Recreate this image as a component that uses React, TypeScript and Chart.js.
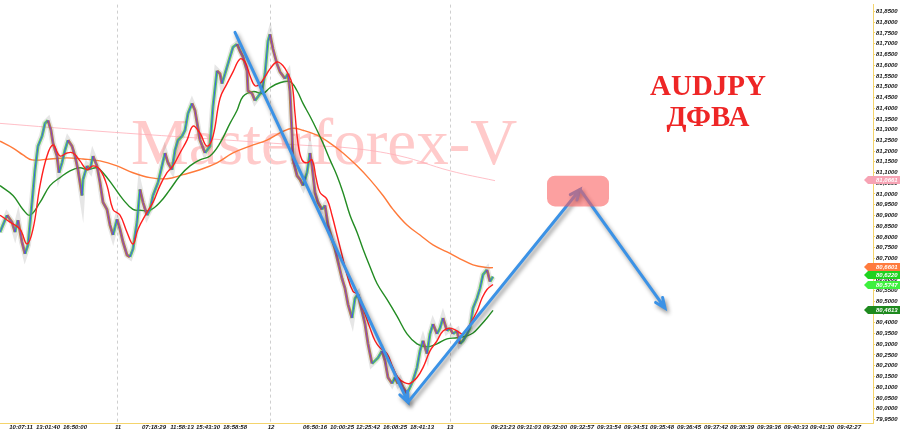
import React, { useEffect, useRef } from "react";
import { Chart, registerables } from "chart.js";

Chart.register(...registerables);

// ---- price (close) path, bar index vs price ----
const priceX = [0,7,12,15,18,22,25,28,32,35,38,42,45,48,51,53,57,59,62,65,68,72,75,78,82,83,87,90,93,97,100,103,107,110,113,117,120,123,127,130,133,137,140,143,147,150,153,158,162,165,168,172,175,178,182,185,188,192,195,200,205,210,213,217,220,222,225,230,233,237,240,243,247,248,252,255,258,262,265,268,270,273,277,280,285,288,290,292,293,297,300,303,307,310,312,315,318,322,325,328,332,335,338,342,345,348,352,355,358,362,365,368,372,375,378,382,385,388,392,395,398,400,403,407,410,413,417,420,423,427,430,433,437,440,443,447,450,453,457,460,463,467,470,473,477,480,483,487,490,493];
const priceV = [80.822,80.901,80.869,80.822,80.878,80.776,80.721,80.763,80.961,81.113,81.223,81.269,81.329,81.343,81.297,81.237,81.177,81.099,81.145,81.205,81.251,81.223,81.177,81.113,80.993,81.067,81.131,81.113,81.177,81.131,81.053,80.961,80.928,80.855,80.809,80.882,80.836,80.776,80.716,80.707,80.744,80.869,81.021,80.961,80.901,80.928,80.993,81.053,81.131,81.191,81.145,81.113,81.205,81.251,81.269,81.297,81.375,81.422,81.389,81.251,81.191,81.223,81.408,81.574,81.560,81.514,81.560,81.638,81.684,81.698,81.666,81.638,81.574,81.481,81.468,81.435,81.454,81.481,81.560,81.712,81.744,81.675,81.606,81.569,81.537,81.560,81.477,81.283,81.159,81.085,81.067,81.039,81.099,81.191,81.131,81.007,80.961,80.928,80.947,80.855,80.790,80.744,80.684,80.606,80.560,80.486,80.422,80.514,80.532,80.454,80.394,80.302,80.210,80.223,80.237,80.269,80.223,80.145,80.117,80.145,80.117,80.131,80.099,80.071,80.099,80.131,80.191,80.269,80.316,80.256,80.348,80.394,80.348,80.375,80.422,80.362,80.375,80.348,80.362,80.302,80.316,80.348,80.375,80.468,80.514,80.560,80.624,80.647,80.592,80.615];

// ---- moving averages ----
const redX = [0,10,20,27,33,40,47,53,60,67,73,80,87,93,100,107,113,120,127,133,138,147,153,160,167,173,180,187,193,200,207,213,220,227,233,240,245,250,255,260,265,270,277,283,288,292,295,298,302,307,312,316,320,327,332,337,342,347,353,358,363,370,375,380,387,393,398,404,410,417,423,430,437,443,450,457,463,470,477,482,487,493];
const redV = [80.901,80.869,80.836,80.767,80.836,81.039,81.177,81.228,81.177,81.191,81.191,81.154,81.113,81.131,81.113,81.039,80.928,80.901,80.822,80.767,80.836,80.915,80.961,81.039,81.099,81.131,81.191,81.251,81.316,81.283,81.223,81.269,81.445,81.514,81.569,81.629,81.615,81.551,81.504,81.514,81.546,81.583,81.615,81.597,81.560,81.514,81.375,81.237,81.159,81.145,81.159,81.076,81.007,80.975,80.901,80.809,80.716,80.624,80.546,80.532,80.468,80.375,80.316,80.283,80.256,80.191,80.145,80.122,80.117,80.145,80.191,80.269,80.316,80.362,80.375,80.362,80.348,80.394,80.454,80.514,80.555,80.578];

const greenX = [0,13,23,30,40,50,60,70,80,87,97,103,113,123,133,140,150,160,170,180,190,200,210,220,230,237,243,253,263,270,280,290,297,303,310,317,323,330,337,343,350,357,363,370,377,387,397,407,417,427,437,447,457,467,473,480,487,493];
const greenV = [81.039,80.993,80.928,80.901,80.961,81.039,81.076,81.108,81.122,81.113,81.122,81.099,81.039,80.975,80.928,80.924,80.924,80.961,81.021,81.085,81.131,81.159,81.177,81.237,81.329,81.389,81.454,81.477,81.468,81.495,81.518,81.523,81.481,81.422,81.362,81.297,81.237,81.159,81.085,81.007,80.901,80.822,80.744,80.661,80.583,80.509,80.431,80.348,80.302,80.288,80.302,80.325,80.330,80.339,80.352,80.385,80.422,80.458];

const orangeX = [0,13,23,32,50,67,83,100,117,133,150,167,183,200,217,233,250,267,283,293,303,317,330,343,357,370,383,393,407,420,433,447,460,473,487,493];
const orangeV = [81.246,81.214,81.182,81.159,81.163,81.168,81.163,81.154,81.131,81.099,81.076,81.071,81.090,81.113,81.145,81.191,81.223,81.251,81.292,81.306,81.297,81.274,81.237,81.191,81.131,81.067,80.993,80.928,80.855,80.809,80.763,80.730,80.698,80.670,80.657,80.657];

const pinkX = [0,100,200,300,350,400,450,495];
const pinkV = [81.329,81.292,81.260,81.228,81.214,81.177,81.108,81.062];

// ---- axes ----
const yTicks = [81.85,81.80,81.75,81.70,81.65,81.60,81.55,81.50,81.45,81.40,81.35,81.30,81.25,81.20,81.15,81.10,81.05,81.00,80.95,80.90,80.85,80.80,80.75,80.70,80.65,80.60,80.55,80.50,80.45,80.40,80.35,80.30,80.25,80.20,80.15,80.10,80.05,80.00,79.95];
const xTickPos = [21,48,75,118,154,182,208,235,271,315,342,368,395,422,450,503,529,555,582,609,636,662,689,716,742,769,796,822,849];
const xTickLabels = ["10:07:11","13:01:40","16:50:00","11","07:18:29","11:58:13","15:43:30","18:58:58","12","06:50:16","10:00:25","12:25:42","16:08:25","18:41:13","13","09:23:23","09:31:03","09:32:00","09:32:57","09:33:54","09:34:51","09:35:48","09:36:45","09:37:42","09:38:39","09:39:36","09:40:33","09:41:30","09:42:27"];
const daySeparators = [117, 270, 450];

// ---- annotations ----
const arrowFrom = [[235, 81.753], [408, 80.030], [580, 81.021]];
const arrowTo = [[408, 80.030], [580, 81.021], [665, 80.468]];
const zoneX = [547, 609];
const zoneV = [81.085, 80.942];
const titleLines = ["AUDJPY", "ДФВА"];
const watermark = "Masterforex-V";
const tagValues = [81.0661, 80.6601, 80.5747, 80.6220, 80.4613];
const tagColors = ["#f7a3b4", "#ff7b3d", "#3ef03e", "#1fd21f", "#1e8a1e"];

const Y_MIN = 79.933;
const Y_MAX = 81.8823;
const AXIS_YELLOW = "#f4d46c";
const tickFont = { family: "Liberation Sans", size: 6, style: "italic" as const, weight: "bold" as const };

const fmt = (v: number) => v.toFixed(4).replace(".", ",");
const pts = (xs: number[], vs: number[]) => xs.map((x, i) => ({ x, y: vs[i] }));

const overlayPlugin = {
  id: "overlayPlugin",
  beforeDatasetsDraw(chart: any) {
    const { ctx, chartArea, scales } = chart;
    ctx.save();
    ctx.font = '65px "Liberation Serif"';
    ctx.fillStyle = "#ffcaca";
    ctx.textBaseline = "alphabetic";
    ctx.textAlign = "left";
    ctx.fillText(watermark, 131, 164);
    ctx.strokeStyle = "#cfcfcf";
    ctx.lineWidth = 1;
    ctx.setLineDash([3, 3]);
    daySeparators.forEach((d) => {
      const x = Math.round(scales.x.getPixelForValue(d)) + 0.5;
      ctx.beginPath();
      ctx.moveTo(x, chartArea.top);
      ctx.lineTo(x, chartArea.bottom);
      ctx.stroke();
    });
    ctx.restore();
  },
  afterDatasetsDraw(chart: any) {
    const { ctx, scales } = chart;
    const xs = scales.x, ys = scales.y;
    ctx.save();
    ctx.strokeStyle = "#3b92e6";
    ctx.lineWidth = 3;
    ctx.lineCap = "round";
    ctx.shadowColor = "rgba(0,0,0,0.45)";
    ctx.shadowBlur = 4;
    ctx.shadowOffsetX = 2;
    ctx.shadowOffsetY = 3;
    arrowFrom.forEach((f, i) => {
      const t = arrowTo[i];
      const x1 = xs.getPixelForValue(f[0]), y1 = ys.getPixelForValue(f[1]);
      const x2 = xs.getPixelForValue(t[0]), y2 = ys.getPixelForValue(t[1]);
      ctx.beginPath();
      ctx.moveTo(x1, y1);
      ctx.lineTo(x2, y2);
      const a = Math.atan2(y2 - y1, x2 - x1);
      const L = 11;
      ctx.moveTo(x2 - L * Math.cos(a - 0.4), y2 - L * Math.sin(a - 0.4));
      ctx.lineTo(x2, y2);
      ctx.lineTo(x2 - L * Math.cos(a + 0.4), y2 - L * Math.sin(a + 0.4));
      ctx.stroke();
    });
    ctx.restore();
    ctx.save();
    const bx1 = xs.getPixelForValue(zoneX[0]), bx2 = xs.getPixelForValue(zoneX[1]);
    const by1 = ys.getPixelForValue(zoneV[0]), by2 = ys.getPixelForValue(zoneV[1]);
    const r = 8;
    ctx.fillStyle = "rgba(250,92,92,0.58)";
    ctx.beginPath();
    ctx.moveTo(bx1 + r, by1);
    ctx.arcTo(bx2, by1, bx2, by2, r);
    ctx.arcTo(bx2, by2, bx1, by2, r);
    ctx.arcTo(bx1, by2, bx1, by1, r);
    ctx.arcTo(bx1, by1, bx2, by1, r);
    ctx.closePath();
    ctx.fill();
    ctx.fillStyle = "#ee2626";
    ctx.font = 'bold 29px "Liberation Serif"';
    ctx.textAlign = "center";
    ctx.textBaseline = "alphabetic";
    ctx.fillText(titleLines[0], 708, 95);
    ctx.fillText(titleLines[1], 708, 126);
    ctx.restore();
  },
  afterDraw(chart: any) {
    const { ctx, chartArea, scales } = chart;
    ctx.save();
    ctx.font = 'italic bold 6px "Liberation Sans"';
    ctx.textBaseline = "middle";
    ctx.textAlign = "left";
    tagValues.forEach((v, i) => {
      const y = Math.round(scales.y.getPixelForValue(v));
      const x0 = chartArea.right - 9;
      ctx.fillStyle = tagColors[i];
      ctx.beginPath();
      ctx.moveTo(x0, y);
      ctx.lineTo(x0 + 4, y - 4);
      ctx.lineTo(900, y - 4);
      ctx.lineTo(900, y + 4);
      ctx.lineTo(x0 + 4, y + 4);
      ctx.closePath();
      ctx.fill();
      ctx.fillStyle = "#ffffff";
      ctx.fillText(fmt(v), chartArea.right + 3, y + 0.5);
    });
    ctx.restore();
  },
};

export default function App() {
  const ref = useRef<HTMLCanvasElement | null>(null);
  useEffect(() => {
    document.body.style.margin = "0";
    const canvas = ref.current;
    if (!canvas) return;
    const up = (c: any) => c.p1.parsed.y >= c.p0.parsed.y;
    const chart = new Chart(canvas, {
      type: "line",
      data: {
        datasets: [
          { label: "MA fast", data: pts(redX, redV), borderColor: "#ff1e1e", borderWidth: 1.4, pointRadius: 0, tension: 0.4, order: 1 },
          {
            label: "price", data: pts(priceX, priceV), borderWidth: 1, pointRadius: 0, tension: 0, order: 2,
            borderColor: "#4a55f0",
            segment: { borderColor: (c: any) => (up(c) ? "#3a5cf5" : "#8a3cc8") },
          },
          {
            label: "bars", data: pts(priceX, priceV), borderWidth: 3, pointRadius: 0, tension: 0, order: 3,
            borderColor: "#5cc85c",
            segment: { borderColor: (c: any) => (up(c) ? "rgba(70,200,60,0.8)" : "rgba(165,105,40,0.8)") },
          },
          { label: "halo", data: pts(priceX, priceV), borderColor: "rgba(140,140,140,0.22)", borderWidth: 6, pointRadius: 0, tension: 0, order: 4 },
          { label: "MA mid", data: pts(greenX, greenV), borderColor: "#238c23", borderWidth: 1.4, pointRadius: 0, tension: 0.4, order: 5 },
          { label: "MA slow", data: pts(orangeX, orangeV), borderColor: "#ff7a3a", borderWidth: 1.4, pointRadius: 0, tension: 0.4, order: 6 },
          { label: "MA long", data: pts(pinkX, pinkV), borderColor: "rgba(255,175,185,0.8)", borderWidth: 1, pointRadius: 0, tension: 0.4, order: 7 },
        ],
      },
      options: {
        responsive: false,
        animation: false,
        layout: { padding: 0, autoPadding: false },
        plugins: { legend: { display: false }, tooltip: { enabled: false } },
        scales: {
          x: {
            type: "linear",
            position: "bottom",
            min: 0,
            max: 873,
            afterFit: (s: any) => { s.height = 9; },
            afterBuildTicks: (s: any) => { s.ticks = xTickPos.map((v) => ({ value: v })); },
            ticks: {
              autoSkip: false,
              maxRotation: 0,
              padding: 1,
              color: "#111111",
              font: tickFont,
              callback: (_v: any, i: number) => xTickLabels[i],
            },
            grid: { drawOnChartArea: false, drawTicks: false },
            border: { color: AXIS_YELLOW, width: 1 },
          },
          y: {
            type: "linear",
            position: "right",
            min: Y_MIN,
            max: Y_MAX,
            afterFit: (s: any) => { s.width = 27; },
            afterBuildTicks: (s: any) => { s.ticks = yTicks.map((v) => ({ value: v })); },
            ticks: {
              padding: 1,
              color: "#111111",
              font: tickFont,
              callback: (v: any) => fmt(Number(v)),
            },
            grid: { drawOnChartArea: false, tickLength: 2, color: AXIS_YELLOW },
            border: { color: AXIS_YELLOW, width: 1 },
          },
        },
      },
      plugins: [overlayPlugin],
    } as any);
    return () => chart.destroy();
  }, []);
  return <canvas ref={ref} width={900} height={432} style={{ display: "block" }} />;
}
